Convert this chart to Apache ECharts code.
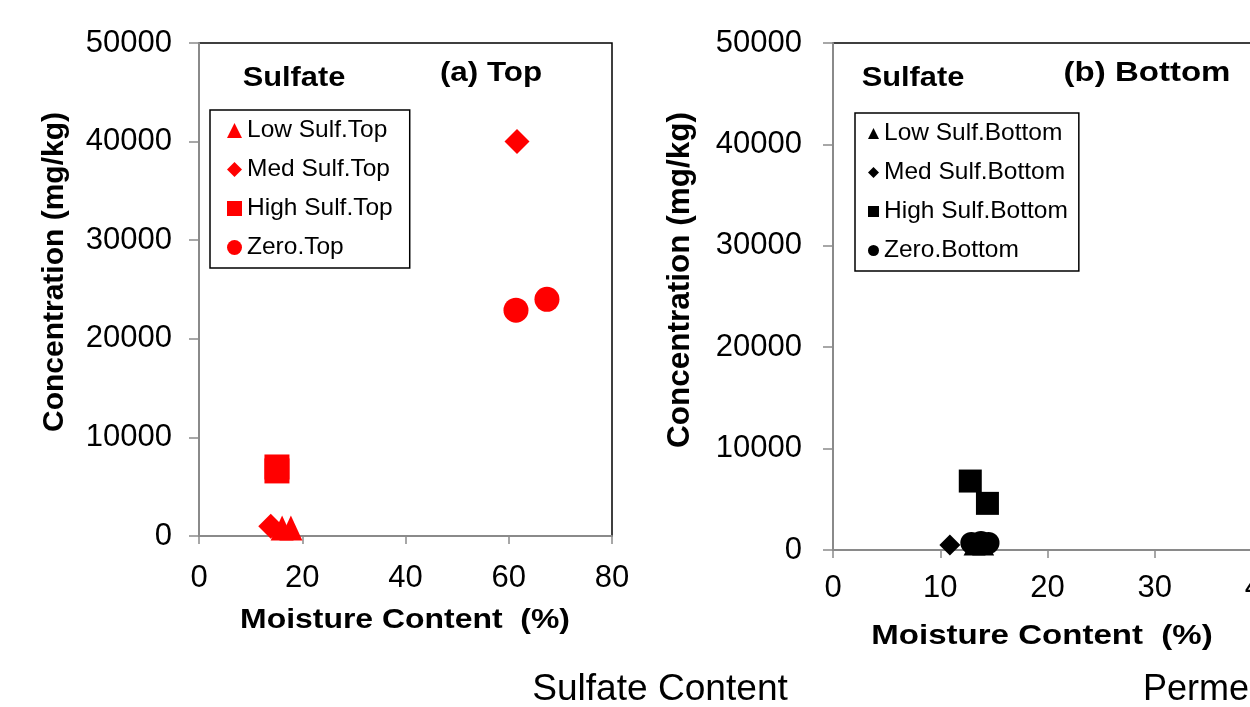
<!DOCTYPE html>
<html>
<head>
<meta charset="utf-8">
<script src="https://cdn.jsdelivr.net/npm/echarts@6/dist/echarts.min.js"></script>
<style>html,body{margin:0;padding:0;background:#fff;}#c{width:1250px;height:707px;}</style>
</head>
<body>
<div id="c"></div>
<script>
// ---- data (moisture %, concentration mg/kg) ----
const namesTop = ['Low Sulf.Top', 'Med Sulf.Top', 'High Sulf.Top', 'Zero.Top'];
const namesBottom = ['Low Sulf.Bottom', 'Med Sulf.Bottom', 'High Sulf.Bottom', 'Zero.Bottom'];
const lowTop = [[16.1, 800], [17.8, 800]];
const medTop = [[13.9, 1000], [61.6, 40000]];
const highTop = [[15.1, 7000], [15.1, 6600]];
const zeroTop = [[61.4, 22900], [67.4, 24000]];
const lowBottom = [[13.2, 500], [14.0, 500]];
const medBottom = [[10.9, 500]];
const highBottom = [[12.8, 6800], [14.4, 4600]];
const zeroBottom = [[12.9, 700], [13.8, 800], [14.5, 700]];
const xTicksTop = [0, 20, 40, 60, 80];
const xTicksBottom = [0, 10, 20, 30, 40];
const yTicks = [0, 10000, 20000, 30000, 40000, 50000];

const FONT = '"Liberation Sans", Arial, sans-serif';
const shapes = ['triangle', 'diamond', 'rect', 'circle'];

function xAxis(gi, ticks, margin) {
  return {
    type: 'value', gridIndex: gi, min: ticks[0], max: ticks[ticks.length - 1],
    interval: ticks[1] - ticks[0],
    axisLine: { show: true, onZero: false, lineStyle: { color: '#8a8a8a', width: 2 } },
    axisTick: { show: true, length: 8, lineStyle: { color: '#8a8a8a', width: 1.5 } },
    axisLabel: { color: '#000', fontSize: 31, fontFamily: FONT, margin: margin, formatter: v => String(v) },
    splitLine: { show: false }
  };
}
function yAxis(gi, margin) {
  return {
    type: 'value', gridIndex: gi, min: yTicks[0], max: yTicks[yTicks.length - 1],
    interval: yTicks[1] - yTicks[0],
    axisLine: { show: true, onZero: false, lineStyle: { color: '#8a8a8a', width: 2 } },
    axisTick: { show: true, length: 10, lineStyle: { color: '#8a8a8a', width: 1.5 } },
    axisLabel: { color: '#000', fontSize: 31, fontFamily: FONT, margin: margin, formatter: v => String(v) },
    splitLine: { show: false }
  };
}
const topData = [lowTop, medTop, highTop, zeroTop];
const botData = [lowBottom, medBottom, highBottom, zeroBottom];
const topSizes = [[23, 25], 25, 25, 25];
const botSizes = [[22, 21], 21, 23, 22];
const series = [];
namesTop.forEach((n, i) => series.push({
  name: n, type: 'scatter', xAxisIndex: 0, yAxisIndex: 0, data: topData[i],
  symbol: shapes[i], symbolSize: topSizes[i], clip: false,
  itemStyle: { color: '#ff0000', opacity: 1 }
}));
namesBottom.forEach((n, i) => series.push({
  name: n, type: 'scatter', xAxisIndex: 1, yAxisIndex: 1, data: botData[i],
  symbol: shapes[i], symbolSize: botSizes[i], clip: false,
  itemStyle: { color: '#000000', opacity: 1 }
}));

function txt(x, y, text, size, weight, opts) {
  return Object.assign({
    type: 'text', x: x, y: y, z: 100,
    style: {
      text: text, fontSize: size, fontWeight: weight, fontFamily: FONT, fill: '#000',
      textAlign: 'center', textVerticalAlign: 'middle', align: 'center', verticalAlign: 'middle'
    }
  }, opts || {});
}

const option = {
  backgroundColor: '#fff',
  animation: false,
  grid: [
    { left: 199, top: 43, width: 413, height: 493, show: true, borderColor: '#000', borderWidth: 1.5,
      backgroundColor: 'transparent', containLabel: false, outerBoundsMode: 'none' },
    { left: 833, top: 43, width: 429, height: 507, show: true, borderColor: '#000', borderWidth: 1.5,
      backgroundColor: 'transparent', containLabel: false, outerBoundsMode: 'none' }
  ],
  xAxis: [xAxis(0, xTicksTop, 27), xAxis(1, xTicksBottom, 23)],
  yAxis: [yAxis(0, 27), yAxis(1, 31)],
  legend: [
    {
      data: namesTop.map((n, i) => ({ name: n, icon: shapes[i] })),
      orient: 'vertical', left: 210, top: 110,
      padding: [8, 17, 8, 17], itemGap: 14, itemWidth: 15, itemHeight: 15,
      borderColor: '#000', borderWidth: 1.5, backgroundColor: '#fff',
      textStyle: { fontSize: 24.5, fontFamily: FONT, color: '#000' },
      selectedMode: false
    },
    {
      data: namesBottom.map((n, i) => ({ name: n, icon: shapes[i] })),
      orient: 'vertical', left: 855, top: 113,
      padding: [8, 11, 8, 13], itemGap: 14, itemWidth: 11, itemHeight: 11,
      borderColor: '#000', borderWidth: 1.5, backgroundColor: '#fff',
      textStyle: { fontSize: 24.5, fontFamily: FONT, color: '#000' },
      selectedMode: false
    }
  ],
  graphic: [
    txt(294, 78, 'Sulfate', 28, 'bold', { scaleX: 1.1 }),
    txt(491, 73, '(a) Top', 28, 'bold', { scaleX: 1.12 }),
    txt(913, 78, 'Sulfate', 28, 'bold', { scaleX: 1.1 }),
    txt(1147, 73, '(b) Bottom', 28, 'bold', { scaleX: 1.18 }),
    txt(55, 272, 'Concentration (mg/kg)', 30, 'bold', { rotation: Math.PI / 2 }),
    txt(680, 280, 'Concentration (mg/kg)', 31.5, 'bold', { rotation: Math.PI / 2 }),
    txt(405, 620, 'Moisture Content  (%)', 28, 'bold', { scaleX: 1.14 }),
    txt(1042, 636, 'Moisture Content  (%)', 28, 'bold', { scaleX: 1.18 }),
    txt(660, 690, 'Sulfate Content', 36, 'normal', { scaleX: 1.03 }),
    txt(1143, 690, 'Permeability', 36, 'normal', { style: { text: 'Permeability', fontSize: 36, fontFamily: FONT, fill: '#000', textAlign: 'left', align: 'left', textVerticalAlign: 'middle', verticalAlign: 'middle' } })
  ],
  series: series
};
const chart = echarts.init(document.getElementById('c'), null, { renderer: 'canvas' });
chart.setOption(option);
</script>
</body>
</html>
